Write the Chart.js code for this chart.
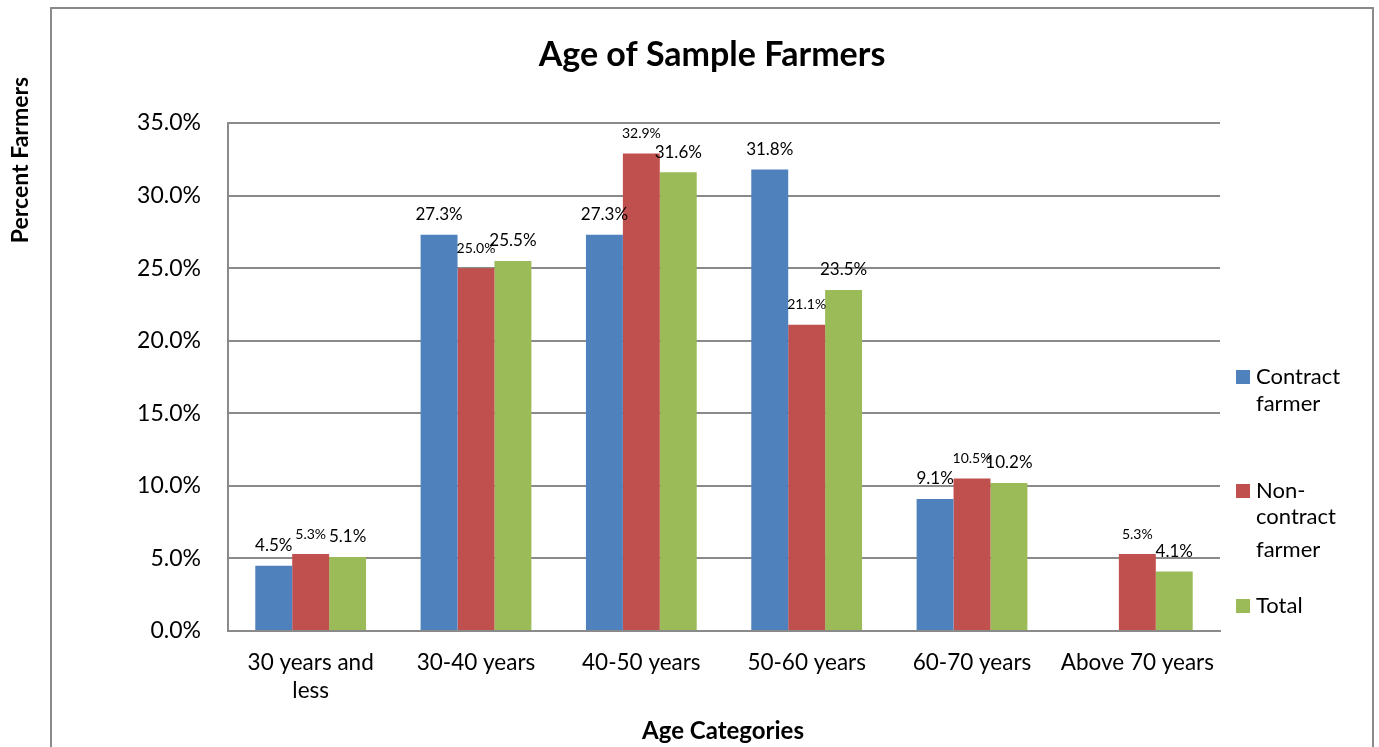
<!DOCTYPE html>
<html lang="en">
<head>
    <meta charset="UTF-8">
    <title>Age of Sample Farmers</title>
    <style>
        html, body { margin: 0; padding: 0; background: #fff; }
        #wrap { width: 1379px; height: 747px; }
    </style>
</head>
<body>
    <div id="wrap">
        <canvas id="myChart" width="1379" height="747"></canvas>
    </div>

    <script src="https://cdn.jsdelivr.net/npm/chart.js"></script>

    <script>

        const categories = [['30 years and', 'less'], '30-40 years', '40-50 years', '50-60 years', '60-70 years', 'Above 70 years']
        const contractFarmer = [4.5, 27.3, 27.3, 31.8, 9.1, null]
        const nonContractFarmer = [5.3, 25.0, 32.9, 21.1, 10.5, 5.3]
        const totalFarmers = [5.1, 25.5, 31.6, 23.5, 10.2, 4.1]
        const yTicks = [0, 5, 10, 15, 20, 25, 30, 35]

        const FONT = 'Lato, "Open Sans", sans-serif'
        const GRID = '#8a8a8a'

        // labels above each bar, size differs per series
        const barLabels = {
            id: 'barLabels',
            afterDatasetsDraw(chart) {
                const c = chart.ctx
                c.save()
                c.fillStyle = '#000'
                c.textAlign = 'center'
                c.textBaseline = 'middle'
                chart.data.datasets.forEach((ds, i) => {
                    const meta = chart.getDatasetMeta(i)
                    c.font = ds.labelSize + 'px ' + FONT
                    meta.data.forEach((bar, j) => {
                        const v = ds.data[j]
                        if (v === null) return
                        c.fillText(v.toFixed(1) + '%', bar.x, bar.y - 20)
                    })
                })
                c.restore()
            }
        }

        // frame, titles and the stacked legend on the right
        const decorations = {
            id: 'decorations',
            beforeDraw(chart) {
                const c = chart.ctx
                c.save()
                c.fillStyle = '#fff'
                c.fillRect(0, 0, chart.width, chart.height)
                c.restore()
            },
            afterDraw(chart) {
                const c = chart.ctx
                c.save()
                c.strokeStyle = GRID
                c.lineWidth = 2
                c.beginPath()
                c.moveTo(51, 760)
                c.lineTo(51, 8)
                c.lineTo(1373, 8)
                c.lineTo(1373, 760)
                c.stroke()

                c.fillStyle = '#000'
                c.textAlign = 'center'
                c.textBaseline = 'middle'
                c.font = 'bold 34px ' + FONT
                c.fillText('Age of Sample Farmers', 712, 55)
                c.font = 'bold 24px ' + FONT
                c.fillText('Age Categories', 723, 731)

                c.save()
                c.translate(21, 160)
                c.rotate(-Math.PI / 2)
                c.font = 'bold 23px ' + FONT
                c.fillText('Percent Farmers', 0, 0)
                c.restore()

                const legend = [
                    { y: 377, lines: ['Contract', 'farmer'], gaps: [0, 27] },
                    { y: 491, lines: ['Non-', 'contract', 'farmer'], gaps: [0, 26, 59] },
                    { y: 606, lines: ['Total'], gaps: [0] }
                ]
                c.textAlign = 'left'
                c.font = '22px ' + FONT
                legend.forEach((item, i) => {
                    c.fillStyle = chart.data.datasets[i].backgroundColor
                    c.fillRect(1236, item.y - 7, 14, 14)
                    c.fillStyle = '#000'
                    item.lines.forEach((t, k) => c.fillText(t, 1256, item.y + item.gaps[k]))
                })
                c.restore()
            }
        }

        const ctx = document.getElementById('myChart')

        let chart = new Chart(ctx, {
            type: 'bar',
            data: {
                labels: categories,
                datasets: [{
                    label: 'Contract farmer',
                    data: contractFarmer,
                    backgroundColor: '#4F81BD',
                    labelSize: 17
                }, {
                    label: 'Non-contract farmer',
                    data: nonContractFarmer,
                    backgroundColor: '#C0504D',
                    labelSize: 14
                }, {
                    label: 'Total',
                    data: totalFarmers,
                    backgroundColor: '#9BBB59',
                    labelSize: 17
                }]
            },
            options: {
                responsive: false,
                animation: false,
                layout: {
                    padding: { left: 128, top: 123, right: 159, bottom: 0 }
                },
                datasets: {
                    bar: { categoryPercentage: 0.67, barPercentage: 1.0 }
                },
                scales: {
                    x: {
                        grid: { display: false },
                        border: { color: GRID, width: 2 },
                        ticks: {
                            color: '#000',
                            padding: 10,
                            maxRotation: 0,
                            autoSkip: false,
                            font: { family: FONT, size: 22.5, lineHeight: 1.25 }
                        },
                        afterFit(scale) { scale.height = 116 }
                    },
                    y: {
                        min: 0,
                        max: 35,
                        afterBuildTicks(scale) {
                            scale.ticks = yTicks.map(v => ({ value: v }))
                        },
                        grid: { color: GRID, lineWidth: 2, drawTicks: false },
                        border: { color: GRID, width: 2 },
                        ticks: {
                            color: '#000',
                            padding: 27,
                            font: { family: FONT, size: 23 },
                            callback: v => v.toFixed(1) + '%'
                        },
                        afterFit(scale) { scale.width = 100 }
                    }
                },
                plugins: {
                    legend: { display: false },
                    title: { display: false },
                    tooltip: { enabled: false }
                }
            },
            plugins: [barLabels, decorations]
        })

    </script>
</body>
</html>
